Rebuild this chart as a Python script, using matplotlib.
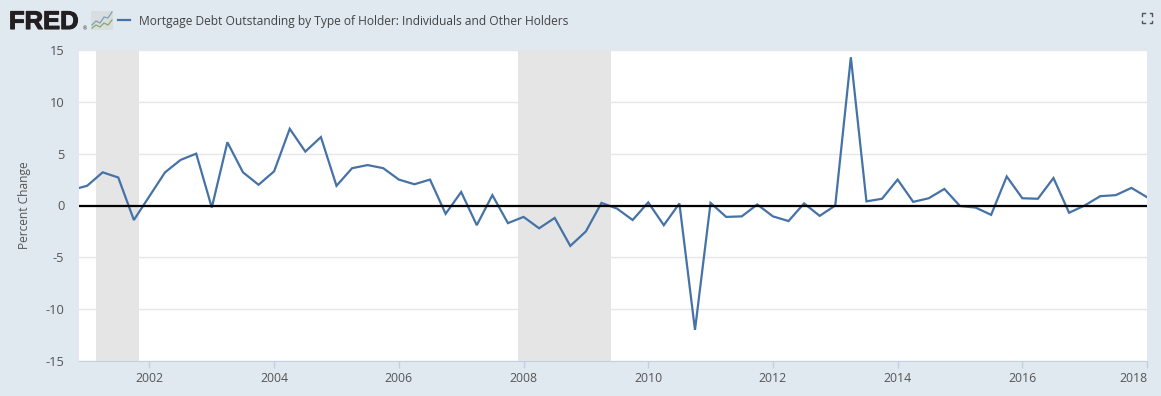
import numpy as np
import matplotlib
matplotlib.use('Agg')
import matplotlib.pyplot as plt
import matplotlib.patheffects as pe
from matplotlib.patches import Rectangle

# quarterly percent change, first point 2000 Q4
start_year = 2000.75
values = [
    1.5,
    1.9, 3.2, 2.7, -1.4,
    0.9, 3.2, 4.4, 5.0,
    -0.2, 6.1, 3.2, 2.0,
    3.3, 7.4, 5.2, 6.6,
    1.9, 3.6, 3.9, 3.6,
    2.5, 2.05, 2.5, -0.8,
    1.3, -1.9, 1.0, -1.7,
    -1.1, -2.2, -1.2, -3.9,
    -2.5, 0.25, -0.3, -1.4,
    0.3, -1.9, 0.2, -12.0,
    0.25, -1.1, -1.05, 0.1,
    -1.05, -1.5, 0.2, -1.0,
    0.0, 14.3, 0.4, 0.65,
    2.5, 0.35, 0.7, 1.6,
    -0.05, -0.2, -0.9, 2.8,
    0.7, 0.65, 2.65, -0.7,
    0.0, 0.9, 1.0, 1.7,
    0.8,
]
recessions = [(2001.15, 2001.83), (2007.91, 2009.40)]
x_ticks = [2002, 2004, 2006, 2008, 2010, 2012, 2014, 2016, 2018]
y_ticks = [-15, -10, -5, 0, 5, 10, 15]
title = 'Mortgage Debt Outstanding by Type of Holder: Individuals and Other Holders'

W, H = 1161, 396
BG = '#e1e9f0'
LINE = '#4572a7'
TXT = '#555555'

plt.rcParams['font.family'] = ['Open Sans', 'DejaVu Sans']
plt.rcParams['axes.unicode_minus'] = False

fig = plt.figure(figsize=(W / 100, H / 100), dpi=100, facecolor=BG)

# plot area in pixels
left, right, top, bottom = 79, 1147, 50, 361
ax = fig.add_axes([left / W, 1 - bottom / H, (right - left) / W, (bottom - top) / H])
ax.set_facecolor('white')

years = start_year + np.arange(len(values)) * 0.25
for a, b in recessions:
    ax.axvspan(a, b, color='#e5e5e5', lw=0, zorder=1)
ax.grid(True, axis='y', color='#e6e6e6', lw=1, zorder=0)
ax.set_axisbelow(True)
ax.plot(years, values, color=LINE, lw=1.6, zorder=3, solid_joinstyle='miter')
ax.axhline(0, color='black', lw=1.6, zorder=4)

ax.set_xlim(2000.87, 2018.0)
ax.set_ylim(-15, 15)
ax.set_yticks(y_ticks)
ax.set_xticks(x_ticks)
ax.set_xticklabels([str(t) for t in x_ticks])
ax.get_xticklabels()[-1].set_ha('right')
ax.tick_params(axis='y', length=0, labelsize=9.3, labelcolor=TXT, pad=10.5)
ax.tick_params(axis='x', length=5, width=1, color='#c0d0e0', labelsize=8.8, labelcolor=TXT, pad=3)
for s in ['top', 'left', 'right']:
    ax.spines[s].set_visible(False)
ax.spines['bottom'].set_color('#c0d0e0')
ax.set_ylabel('Percent Change', fontsize=8.6, color=TXT)
ax.yaxis.set_label_coords((31 - left) / (right - left), 0.5)

# header in pixel coords
over = fig.add_axes([0, 0, 1, 1], facecolor='none')
over.set_xlim(0, W)
over.set_ylim(H, 0)
over.axis('off')
logo = over.text(9, 22, 'FRED', family=['Liberation Sans'], weight='bold', fontsize=18.4,
                 color='#231f20', va='center', ha='left')
logo.set_path_effects([pe.withStroke(linewidth=0.8, foreground='#231f20')])
over.text(85, 29, '®', fontsize=3.5, color='#231f20', va='center', ha='center')
over.add_patch(Rectangle((91, 11), 22, 19, fc='#d8dedf', ec='none'))
over.plot([92, 96, 100, 104, 108, 112], [25, 21, 23, 17, 18, 12], color='#7f9db9', lw=0.9)
over.plot([92, 96, 100, 104, 108, 112], [28, 25, 27, 23, 25, 20], color='#8aa86a', lw=0.9)
over.plot([118, 130], [20, 20], color=LINE, lw=1.6)
over.text(139, 21, title, fontsize=8.65, color='#444444', va='center', ha='left')

# expand icon
cx, cy = 1147, 18
for sx in (-1, 1):
    for sy in (-1, 1):
        over.plot([cx + sx * 5, cx + sx * 5, cx + sx * 2.5], [cy + sy * 2.5, cy + sy * 5, cy + sy * 5],
                  color='#555555', lw=1)

fig.savefig('out.png', dpi=100, facecolor=BG)
